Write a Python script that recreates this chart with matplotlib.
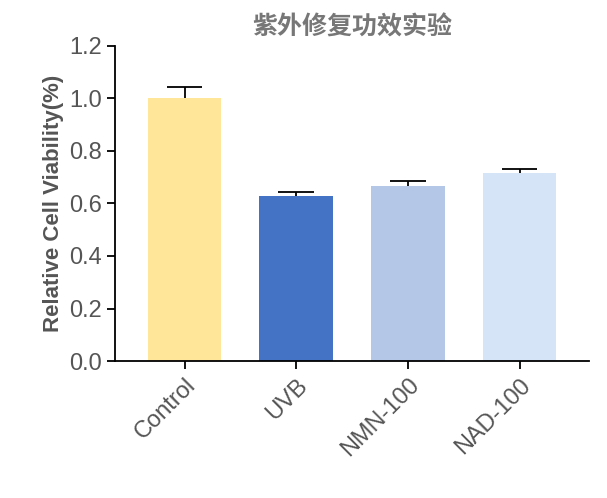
import matplotlib
matplotlib.use('Agg')
import matplotlib.pyplot as plt

categories = ['Control', 'UVB', 'NMN-100', 'NAD-100']
values = [1.0, 0.628, 0.665, 0.715]
errors = [0.042, 0.015, 0.02, 0.015]
colors = ['#FFE699', '#4472C4', '#B4C7E7', '#D6E4F8']

plt.rcParams['font.family'] = ['Liberation Sans', 'Noto Sans CJK SC', 'DejaVu Sans']
fig = plt.figure(figsize=(6.07, 4.98), dpi=100)
ax = fig.add_axes([0.19, 0.275, 0.78, 0.633])
x = list(range(len(categories)))
ax.bar(x, values, width=0.66, color=colors)
tops = [v + e for v, e in zip(values, errors)]
ax.vlines(x, values, tops, color='black', lw=1.3)
ax.hlines(tops, [i - 0.16 for i in x], [i + 0.16 for i in x], color='black', lw=1.3)
ax.set_ylim(0, 1.2)
ax.set_xlim(-0.62, 3.62)
ax.set_yticks([0, 0.2, 0.4, 0.6, 0.8, 1.0, 1.2])
ax.set_yticklabels(['0.0', '0.2', '0.4', '0.6', '0.8', '1.0', '1.2'])
ax.set_xticks(x)
ax.set_xticklabels(categories, rotation=45, ha='right', rotation_mode='anchor')
ax.tick_params(labelsize=17, labelcolor='#555555', width=1.3, length=6)
for s in ['top', 'right']:
    ax.spines[s].set_visible(False)
for s in ['left', 'bottom']:
    ax.spines[s].set_linewidth(1.3)
ax.set_ylabel('Relative Cell Viability(%)', fontsize=16, fontweight='bold', color='#555555')
ax.set_title('紫外修复功效实验', fontsize=18, fontweight='bold', color='#777777', pad=8,
             family=['Noto Sans CJK SC', 'DejaVu Sans'])
fig.savefig('out.png', dpi=100)
